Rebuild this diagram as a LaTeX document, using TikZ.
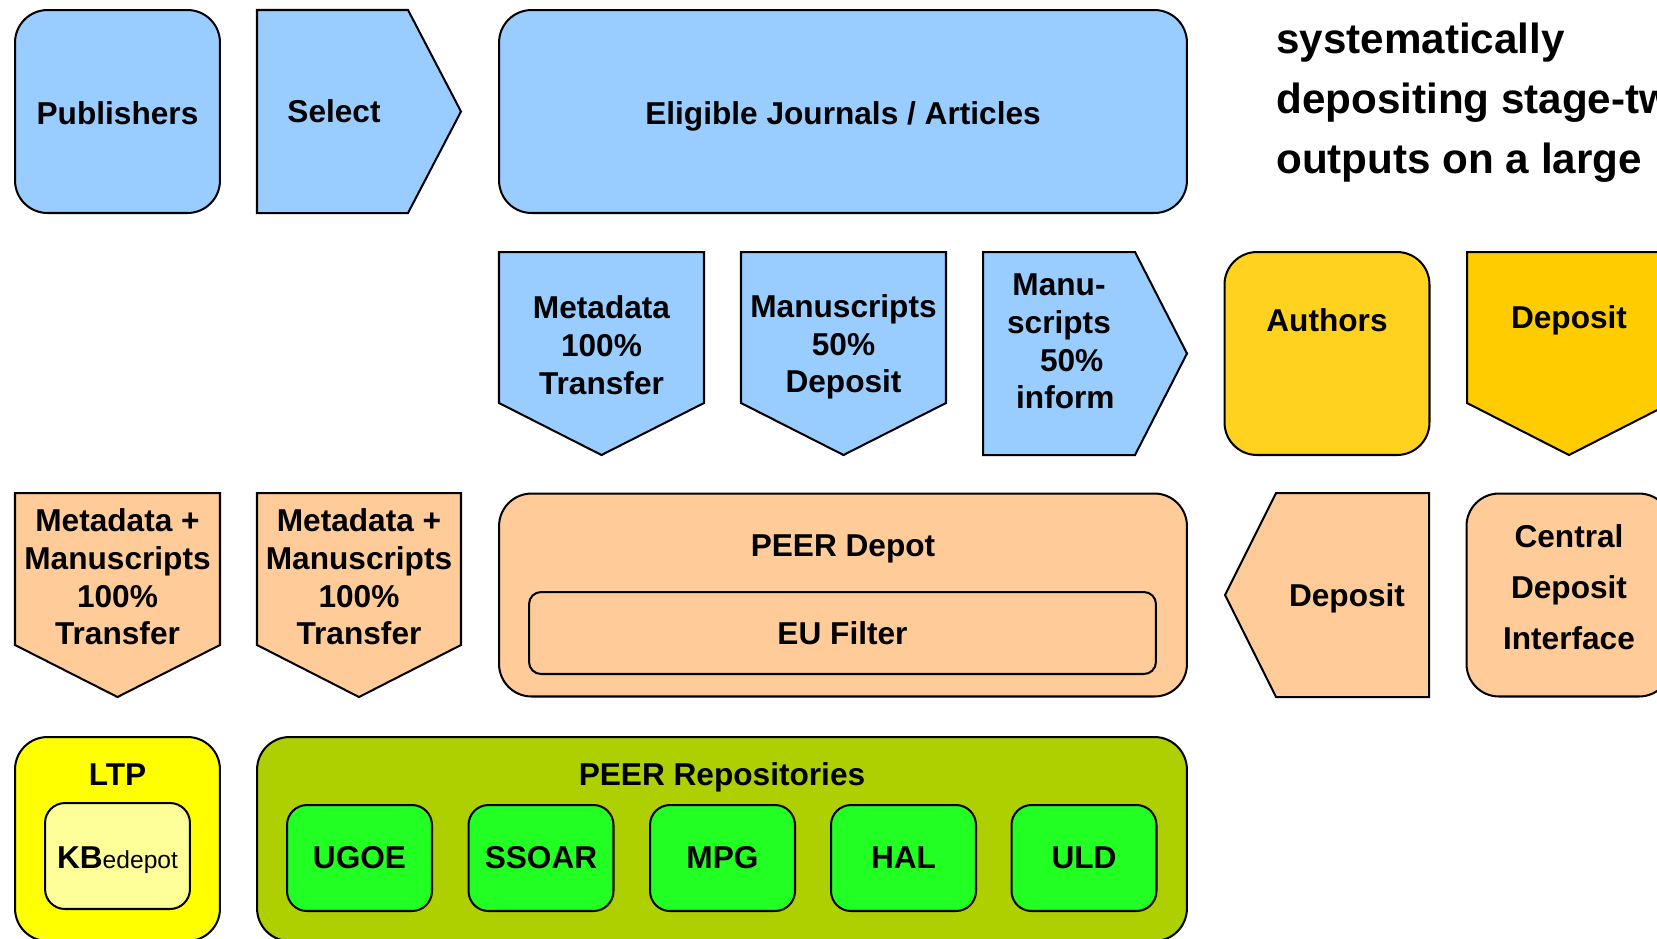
\documentclass[tikz,border=0pt]{standalone}
\usepackage{fontspec}
\setmainfont{Liberation Sans}
\usetikzlibrary{positioning}
\definecolor{peerblue}{RGB}{153,204,255}
\definecolor{peach}{RGB}{255,204,153}
\definecolor{authyellow}{RGB}{255,210,32}
\definecolor{depyellow}{RGB}{255,204,0}
\definecolor{ltpyellow}{RGB}{255,255,0}
\definecolor{kbyellow}{RGB}{255,255,153}
\definecolor{repoolive}{RGB}{175,208,0}
\definecolor{repogreen}{RGB}{34,255,34}
\tikzset{
  txt/.style={font=\fontsize{18}{21.5}\selectfont\bfseries, align=center, inner sep=0pt},
  tile/.style={txt, draw=black, line width=1.15pt, rounded corners=0.65cm,
    minimum width=4.1cm, minimum height=4.06cm},
  smalltile/.style={txt, draw=black, line width=1.15pt, rounded corners=0.4cm,
    minimum width=2.9cm, minimum height=2.12cm},
  flag/.style={draw=black, line width=1.15pt, line join=miter},
  bigtxt/.style={font=\fontsize{24}{34}\selectfont\bfseries, anchor=base west, inner sep=0pt}
}
\begin{document}
\begin{tikzpicture}[x=0.02cm, y=-0.02cm]
  \useasboundingbox (0,0) rectangle (1657,938);
  \clip (0,0) rectangle (1657,938);

  % Row 1: publishers
  \node[tile, fill=peerblue] (publishers) at (117.5,111.5) {};
  \node[txt] (publisherstxt) at (117.5,113.5) {Publishers};
  \draw[flag, fill=peerblue] (257,10) -- (408,10) -- (461,111.5) -- (408,213) -- (257,213) -- cycle;
  \node[txt] (select) at (334,111) {Select};
  \node[tile, fill=peerblue, minimum width=13.76cm] (eligible) at (843,111.5) {};
  \node[txt] (eligibletxt) at (843,116.5) {Eligible Journals / Articles};
  % Intro text
  \node[bigtxt] (introA) at (1276,53) {systematically};
  \node[bigtxt] (introB) at (1276,113) {depositing stage-two};
  \node[bigtxt] (introC) at (1276,173) {outputs on a large};

  % Row 2: publisher flows
  \draw[flag, fill=peerblue] (499,252) -- (704,252) -- (704,403) -- (601.5,455) -- (499,403) -- cycle;
  \node[txt] (metatrans) at (601.5,345) {Metadata\\100\%\\Transfer};
  \draw[flag, fill=peerblue] (741,252) -- (946,252) -- (946,403) -- (843.5,455) -- (741,403) -- cycle;
  \node[txt] (manudep) at (843.5,347) {Manuscripts\\50\%\\Deposit};
  \draw[flag, fill=peerblue] (983,252) -- (1135,252) -- (1187,353.5) -- (1135,455) -- (983,455) -- cycle;
  \node[txt] (manuinf) at (1059,341.5) {Manu-\\scripts\\\hspace*{0.8em}50\%\\\hspace*{0.4em}inform};
  % Authors
  \node[tile, fill=authyellow] (authors) at (1327,353.5) {};
  \node[txt] (authorstxt) at (1327,320) {Authors};
  \draw[flag, fill=depyellow] (1467,252) -- (1671,252) -- (1671,403) -- (1569,455) -- (1467,403) -- cycle;
  \node[txt] (authdep) at (1569,320) {Deposit};

  % Row 3: depot
  \draw[flag, fill=peach] (15,493) -- (220,493) -- (220,645) -- (117.5,697) -- (15,645) -- cycle;
  \node[txt] (ltptrans) at (117.5,577) {Metadata +\\Manuscripts\\100\%\\Transfer};
  \draw[flag, fill=peach] (257,493) -- (461,493) -- (461,645) -- (359,697) -- (257,645) -- cycle;
  \node[txt] (repotrans) at (359,577) {Metadata +\\Manuscripts\\100\%\\Transfer};
  \node[tile, fill=peach, minimum width=13.76cm] (depot) at (843,595) {};
  \node[txt] (depottxt) at (843,549) {PEER Depot};
  \node[smalltile, fill=peach, rounded corners=0.24cm, minimum width=12.54cm, minimum height=1.64cm] (eufilter) at (842.5,633) {EU Filter};
  \draw[flag, fill=peach] (1225,595) -- (1276,493) -- (1429,493) -- (1429,697) -- (1276,697) -- cycle;
  \node[txt] (cdidep) at (1347,598) {Deposit};
  \node[tile, fill=peach] (cdi) at (1569,595) {};
  \node[txt, font=\fontsize{18}{29}\selectfont\bfseries] (cditxt) at (1569,587) {Central\\Deposit\\Interface};

  % Row 4: archives
  \node[tile, fill=ltpyellow, minimum height=4.08cm] (ltp) at (117.5,839) {};
  \node[txt] (ltptxt) at (117.5,775) {LTP};
  \node[smalltile, fill=kbyellow] (kbedepot) at (117.5,856) {};
  \node[txt] (kbtxt) at (117.5,860) {KB{\mdseries\fontsize{14}{14}\selectfont edepot}};
  \node[tile, fill=repoolive, minimum width=18.6cm, minimum height=4.08cm] (repos) at (722,839) {};
  \node[txt] (repostxt) at (722,777) {PEER Repositories};
  \node[smalltile, fill=repogreen] (ugoe) at (359.5,858) {UGOE};
  \node[smalltile, fill=repogreen] (ssoar) at (541,858) {SSOAR};
  \node[smalltile, fill=repogreen] (mpg) at (722.5,858) {MPG};
  \node[smalltile, fill=repogreen] (hal) at (903.5,858) {HAL};
  \node[smalltile, fill=repogreen] (uld) at (1084,858) {ULD};
\end{tikzpicture}
\end{document}
